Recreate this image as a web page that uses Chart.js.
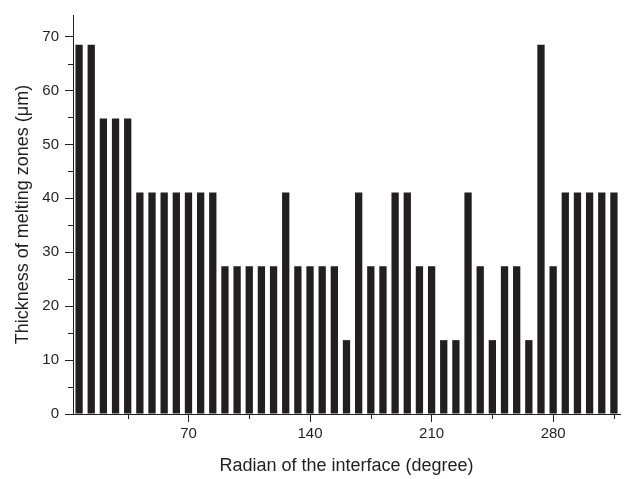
<!DOCTYPE html>
<html>
<head>
<meta charset="utf-8">
<script src="https://cdn.jsdelivr.net/npm/chart.js@4/dist/chart.umd.min.js"></script>
<style>
  html, body { margin: 0; padding: 0; background: #fff; }
</style>
</head>
<body>
<canvas id="chart" width="624" height="479"></canvas>
<script>
// radian positions (degree) of each measured zone
const angles = [7, 14, 21, 28, 35, 42, 49, 56, 63, 70,
                77, 84, 91, 98, 105, 112, 119, 126, 133, 140,
                147, 154, 161, 168, 175, 182, 189, 196, 203, 210,
                217, 224, 231, 238, 245, 252, 259, 266, 273, 280,
                287, 294, 301, 308, 315];

// thickness of melting zones (um)
const thickness = [68.5, 68.5, 54.8, 54.8, 54.8, 41.1, 41.1, 41.1, 41.1, 41.1,
                   41.1, 41.1, 27.4, 27.4, 27.4, 27.4, 27.4, 41.1, 27.4, 27.4,
                   27.4, 27.4, 13.7, 41.1, 27.4, 27.4, 41.1, 41.1, 27.4, 27.4,
                   13.7, 13.7, 41.1, 27.4, 13.7, 27.4, 27.4, 13.7, 68.5, 27.4,
                   41.1, 41.1, 41.1, 41.1, 41.1];

const xTickLabels = ['70', '140', '210', '280'];
const xMinorTicks = [35, 105, 175, 245, 315];
const yMinorTicks = [5, 15, 25, 35, 45, 55, 65];

const ink = '#231f20';
const fontFamily = "'Liberation Sans', Arial, Helvetica, sans-serif";

const isMajorX = (i) => xTickLabels.includes(String(angles[i]));

// short minor tick marks on both axes
const minorTicks = {
    id: 'minorTicks',
    afterDraw(chart) {
        const {ctx, chartArea} = chart;
        const x = chart.scales.x;
        const y = chart.scales.y;
        ctx.save();
        ctx.strokeStyle = ink;
        ctx.lineWidth = 1;
        ctx.beginPath();
        xMinorTicks.forEach(a => {
            const px = Math.round(x.getPixelForValue(angles.indexOf(a))) + 0.5;
            ctx.moveTo(px, chartArea.bottom);
            ctx.lineTo(px, chartArea.bottom + 5);
        });
        yMinorTicks.forEach(v => {
            const py = Math.round(y.getPixelForValue(v)) + 0.5;
            ctx.moveTo(chartArea.left, py);
            ctx.lineTo(chartArea.left - 5, py);
        });
        ctx.stroke();
        ctx.restore();
    }
};

new Chart(document.getElementById('chart'), {
    type: 'bar',
    data: {
        labels: angles.map(String),
        datasets: [{
            data: thickness,
            backgroundColor: ink,
            borderWidth: 0,
            barPercentage: 0.6,
            categoryPercentage: 1.0
        }]
    },
    options: {
        responsive: false,
        animation: false,
        layout: {
            padding: {top: 7, right: 4, bottom: 0, left: 0}
        },
        plugins: {
            legend: {display: false},
            tooltip: {enabled: false}
        },
        scales: {
            x: {
                type: 'category',
                afterFit: (scale) => { scale.height = 65; },
                grid: {
                    offset: false,
                    drawOnChartArea: false,
                    drawTicks: true,
                    tickLength: 8,
                    color: (c) => isMajorX(c.index) ? ink : 'rgba(0,0,0,0)'
                },
                border: {display: true, color: ink, width: 1},
                ticks: {
                    autoSkip: false,
                    maxRotation: 0,
                    padding: 3,
                    color: ink,
                    font: {family: fontFamily, size: 15},
                    callback: (value, index) => isMajorX(index) ? String(angles[index]) : ''
                },
                title: {
                    display: true,
                    text: 'Radian of the interface (degree)',
                    color: ink,
                    font: {family: fontFamily, size: 18},
                    padding: {top: 0, bottom: 2}
                }
            },
            y: {
                min: 0,
                max: 74,
                afterFit: (scale) => { scale.width = 73; },
                grid: {
                    drawOnChartArea: false,
                    drawTicks: true,
                    tickLength: 8,
                    color: ink
                },
                border: {display: true, color: ink, width: 1},
                ticks: {
                    stepSize: 10,
                    includeBounds: false,
                    padding: 6,
                    color: ink,
                    font: {family: fontFamily, size: 15}
                },
                title: {
                    display: true,
                    text: 'Thickness of melting zones (μm)',
                    color: ink,
                    font: {family: fontFamily, size: 18},
                    padding: {top: 12, bottom: 0}
                }
            }
        }
    },
    plugins: [minorTicks]
});
</script>
</body>
</html>
